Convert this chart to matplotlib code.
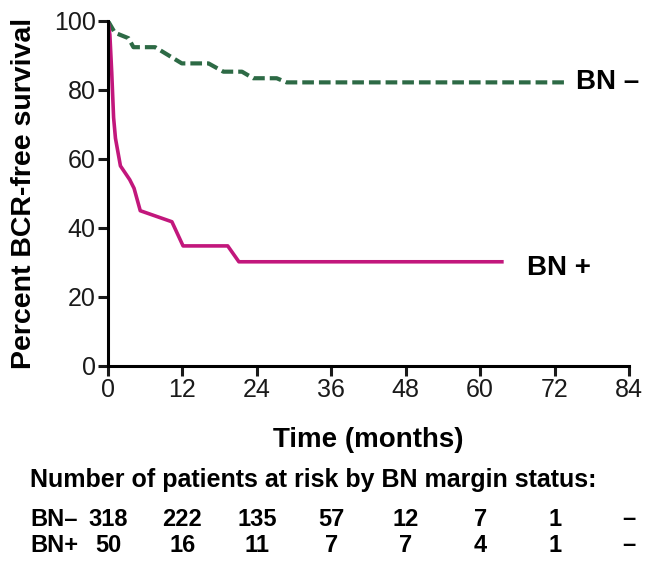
import matplotlib
matplotlib.use("Agg")
import matplotlib.pyplot as plt
from matplotlib.transforms import blended_transform_factory

plt.rcParams['font.family'] = ['Liberation Sans', 'DejaVu Sans']

# Kaplan-Meier curves (months, percent)
neg_t = [0, 1.1, 3.3, 4.1, 7.6, 11.9, 16.2, 18.6, 21.6, 23.4, 27.2, 28.8, 74.2]
neg_s = [100, 96.6, 95, 92.4, 92.4, 87.7, 87.7, 85.3, 85.3, 83.4, 83.4, 82.2, 82.2]

pos_t = [0, 0.3, 0.6, 0.9, 1.2, 2.0, 3.5, 4.2, 5.2, 10.3, 12.1, 19.3, 21.1, 63.5]
pos_s = [100, 96, 85, 72, 66, 58, 54, 51.5, 45, 41.8, 34.8, 34.8, 30.2, 30.2]

# numbers at risk
risk_times = [0, 12, 24, 36, 48, 60, 72, 84]
risk_neg = ['318', '222', '135', '57', '12', '7', '1', '\u2013']
risk_pos = ['50', '16', '11', '7', '7', '4', '1', '\u2013']

green = '#2d6a45'
magenta = '#c2177c'

fig = plt.figure(figsize=(6.46, 5.62), dpi=100, facecolor='white')
ax = fig.add_axes([0.1672, 0.3488, 0.8065, 0.6139])

ax.plot(neg_t, neg_s, color=green, lw=3, ls=(0, (2.8, 1.2)), solid_capstyle='butt')
ax.plot(pos_t, pos_s, color=magenta, lw=2.6)

ax.set_xlim(0, 84)
ax.set_ylim(0, 100)
ax.set_xticks(risk_times)
ax.set_yticks([0, 20, 40, 60, 80, 100])
for s in ['top', 'right']:
    ax.spines[s].set_visible(False)
for s in ['left', 'bottom']:
    ax.spines[s].set_linewidth(2.2)
ax.tick_params(width=2.2, length=7, labelsize=18, pad=2, colors='#1a1a1a')

ax.set_xlabel('Time (months)', fontsize=20, fontweight='bold', labelpad=18)
ax.set_ylabel('Percent BCR-free survival', fontsize=20.5, fontweight='bold', labelpad=12)

ax.text(75.5, 82.3, 'BN \u2013', fontsize=20, fontweight='bold', va='center', clip_on=False)
ax.text(67.5, 28.5, 'BN +', fontsize=20, fontweight='bold', va='center', clip_on=False)

# risk table under the axis
tr = blended_transform_factory(ax.transData, fig.transFigure)
fig.text(30 / 646, 1 - 480 / 562, 'Number of patients at risk by BN margin status:',
         fontsize=18, fontweight='bold', va='center')
fig.text(30 / 646, 1 - 519 / 562, 'BN\u2013', fontsize=17, fontweight='bold', va='center')
fig.text(30 / 646, 1 - 545 / 562, 'BN+', fontsize=17, fontweight='bold', va='center')
for t, a, b in zip(risk_times, risk_neg, risk_pos):
    ax.text(t, 1 - 519 / 562, a, transform=tr, fontsize=17, fontweight='bold',
            ha='center', va='center', clip_on=False)
    ax.text(t, 1 - 545 / 562, b, transform=tr, fontsize=17, fontweight='bold',
            ha='center', va='center', clip_on=False)

fig.savefig('out.png', dpi=100, facecolor='white')
